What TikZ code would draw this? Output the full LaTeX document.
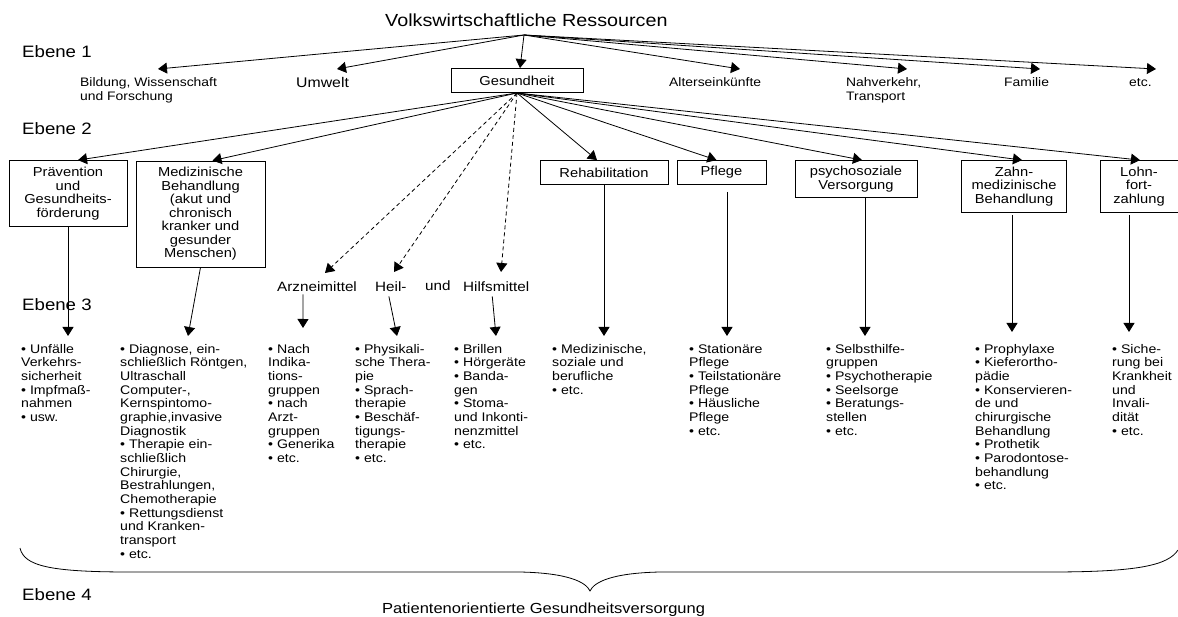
\documentclass[tikz,border=0pt]{standalone}
\usepackage{fontspec}
\setmainfont{Liberation Sans}[FakeStretch=1.13]
\usetikzlibrary{arrows.meta}
\newcommand{\myfs}[2]{\fontsize{#1}{#2}\selectfont}
\begin{document}
\begin{tikzpicture}[x=1pt,y=-1pt,
  arr/.style={-{Triangle[length=9pt,width=11pt]}, line width=0.8pt},
  darr/.style={arr, dash pattern=on 4pt off 3pt},
  box/.style={draw, line width=0.8pt, align=center, font=\myfs{13}{13.5}, inner sep=0pt},
  lbl/.style={anchor=base west, inner sep=0pt, font=\myfs{12.3}{12.5}},
  lblm/.style={anchor=north west, inner sep=0pt, font=\myfs{12.3}{14.5}, align=left},
  mid/.style={anchor=base west, inner sep=0pt, font=\myfs{13.5}{15}},
  lst/.style={anchor=north west, inner sep=0pt, font=\myfs{12.5}{13.67}, align=left},
  ebene/.style={anchor=base west, inner sep=0pt, font=\myfs{16.5}{18}},
  big/.style={anchor=base west, inner sep=0pt, font=\myfs{17.5}{20}},
]
\path[use as bounding box] (0,0) rectangle (1178,617);

% titles and levels
\node[big] (title) at (385,27) {Volkswirtschaftliche Ressourcen};
\coordinate (root) at (524,35);
\node[ebene] (e1) at (22,58) {Ebene 1};
\node[ebene] (e2) at (22,135) {Ebene 2};
\node[ebene] (e3) at (22,311) {Ebene 3};
\node[ebene] (e4) at (22,600) {Ebene 4};

% level 1
\node[lblm] (bild) at (80,77) {Bildung, Wissenschaft\\und Forschung};
\node[lbl] (umw) at (296,88) {\myfs{14}{15}Umwelt};
\node[box, minimum width=132pt, minimum height=24pt] (ges) at (517,80.5) {Gesundheit};
\node[lbl] (alt) at (669,87) {Alterseinkünfte};
\node[lblm] (nah) at (846,77) {Nahverkehr,\\Transport};
\node[lbl] (fam) at (1004,87) {Familie};
\node[lbl] (etc) at (1129,87) {etc.};

\coordinate (tbild) at (158,69);
\coordinate (tumw) at (337,69);
\coordinate (talt) at (740,69);
\coordinate (tnah) at (907,69);
\coordinate (tfam) at (1040,69);
\coordinate (tetc) at (1156,69);
\draw[arr] (root) -- (tbild);
\draw[arr] (root) -- (tumw);
\draw[arr] (root) -- ([xshift=3pt]ges.north);
\draw[arr] (root) -- (talt);
\draw[arr] (root) -- (tnah);
\draw[arr] (root) -- (tfam);
\draw[arr] (root) -- (tetc);

% level 2 boxes
\node[box, minimum width=118pt, minimum height=66pt] (praev) at (68,193.5) {Prävention\\und\\Gesundheits-\\förderung};
\node[box, minimum width=129pt, minimum height=106pt] (med) at (200.5,214) {Medizinische\\Behandlung\\(akut und\\chronisch\\kranker und\\gesunder\\Menschen)};
\node[box, minimum width=128pt, minimum height=24pt] (reha) at (604,172.5) {Rehabilitation};
\node[box, minimum width=89pt, minimum height=24pt] (pfl) at (721.5,172.5) {Pflege};
\node[box, minimum width=122pt, minimum height=37pt] (psy) at (856,179) {psychosoziale\\Versorgung};
\node[box, minimum width=105pt, minimum height=52pt] (zahn) at (1014,186.5) {Zahn-\\medizinische\\Behandlung};
\node[box, minimum width=78pt, minimum height=52pt] (lohn) at (1139,186.5) {Lohn-\\fort-\\zahlung};

\coordinate (gs) at (517,93);
\draw[arr] (gs) -- ([xshift=10pt]praev.north);
\draw[arr] (gs) -- ([xshift=12pt]med.north);
\draw[arr] (gs) -- ([xshift=-7pt]reha.north);
\draw[arr] (gs) -- ([xshift=-5pt]pfl.north);
\draw[arr] (gs) -- ([xshift=6pt]psy.north);
\draw[arr] (gs) -- ([xshift=8pt]zahn.north);
\draw[arr] (gs) -- ([xshift=1pt]lohn.north);

% Arznei-, Heil- und Hilfsmittel
\node[mid] (arz) at (277,292) {Arzneimittel};
\node[mid] (heil) at (375,292) {Heil-};
\node[mid] (und) at (425,291) {und};
\node[mid] (hilf) at (463,292) {Hilfsmittel};
\coordinate (tarz) at (325,273);
\coordinate (theil) at (394,272);
\coordinate (thilf) at (501,272);
\draw[darr] (gs) -- (tarz);
\draw[darr] (gs) -- (theil);
\draw[darr] (gs) -- (thilf);

% level 3 lists
\node[lst] (c1) at (21,344) {• Unfälle\\Verkehrs-\\sicherheit\\• Impfmaß-\\nahmen\\• usw.};
\node[lst] (c2) at (120,344) {• Diagnose, ein-\\schließlich Röntgen,\\Ultraschall\\Computer-,\\Kernspintomo-\\graphie,invasive\\Diagnostik\\• Therapie ein-\\schließlich\\Chirurgie,\\Bestrahlungen,\\Chemotherapie\\• Rettungsdienst\\und Kranken-\\transport\\• etc.};
\node[lst] (c3) at (268,344) {• Nach\\Indika-\\tions-\\gruppen\\• nach\\Arzt-\\gruppen\\• Generika\\• etc.};
\node[lst] (c4) at (355,344) {• Physikali-\\sche Thera-\\pie\\• Sprach-\\therapie\\• Beschäf-\\tigungs-\\therapie\\• etc.};
\node[lst] (c5) at (454,344) {• Brillen\\• Hörgeräte\\• Banda-\\gen\\• Stoma-\\und Inkonti-\\nenzmittel\\• etc.};
\node[lst] (c6) at (552,344) {• Medizinische,\\soziale und\\berufliche\\• etc.};
\node[lst] (c7) at (689,344) {• Stationäre\\Pflege\\• Teilstationäre\\Pflege\\• Häusliche\\Pflege\\• etc.};
\node[lst] (c8) at (826,344) {• Selbsthilfe-\\gruppen\\• Psychotherapie\\• Seelsorge\\• Beratungs-\\stellen\\• etc.};
\node[lst] (c9) at (975,344) {• Prophylaxe\\• Kieferortho-\\pädie\\• Konservieren-\\de und\\chirurgische\\Behandlung\\• Prothetik\\• Parodontose-\\behandlung\\• etc.};
\node[lst] (c10) at (1112,344) {• Siche-\\rung bei\\Krankheit\\und\\Invali-\\dität\\• etc.};

% level 3 arrows
\coordinate (a1) at (68,336);
\coordinate (a2) at (188,336);
\coordinate (a3) at (303,328);
\coordinate (a4) at (397,336);
\coordinate (a5) at (496,336);
\coordinate (a6) at (604,336);
\coordinate (a7) at (727,336);
\coordinate (a8) at (865,336);
\coordinate (a9) at (1012,332);
\coordinate (a10) at (1129,332);
\draw[arr] (praev.south) -- (a1);
\draw[arr] (med.south) -- (a2);
\draw[arr] ([xshift=-14pt,yshift=-2pt]arz.south) -- (a3);
\draw[arr] ([xshift=-2pt,yshift=-4pt]heil.south) -- (a4);
\draw[arr] ([xshift=-4pt,yshift=-4pt]hilf.south) -- (a5);
\draw[arr] (reha.south) -- (a6);
\draw[arr] ([xshift=5.5pt,yshift=-7pt]pfl.south) -- (a7);
\draw[arr] ([xshift=9pt]psy.south) -- (a8);
\draw[arr] ([xshift=-2pt,yshift=-2pt]zahn.south) -- (a9);
\draw[arr] ([xshift=-10pt,yshift=-2pt]lohn.south) -- (a10);

% brace
\draw[line width=0.8pt] (20,548) .. controls (24,566) and (50,572) .. (130,572) -- (520,572)
  .. controls (568,573) and (586,582) .. (590,591)
  .. controls (594,582) and (612,573) .. (660,572) -- (1050,572)
  .. controls (1140,572) and (1168,565) .. (1178,550);
\node[big, font=\myfs{14.6}{16}] (pat) at (382,613) {Patientenorientierte Gesundheitsversorgung};
\end{tikzpicture}
\end{document}
